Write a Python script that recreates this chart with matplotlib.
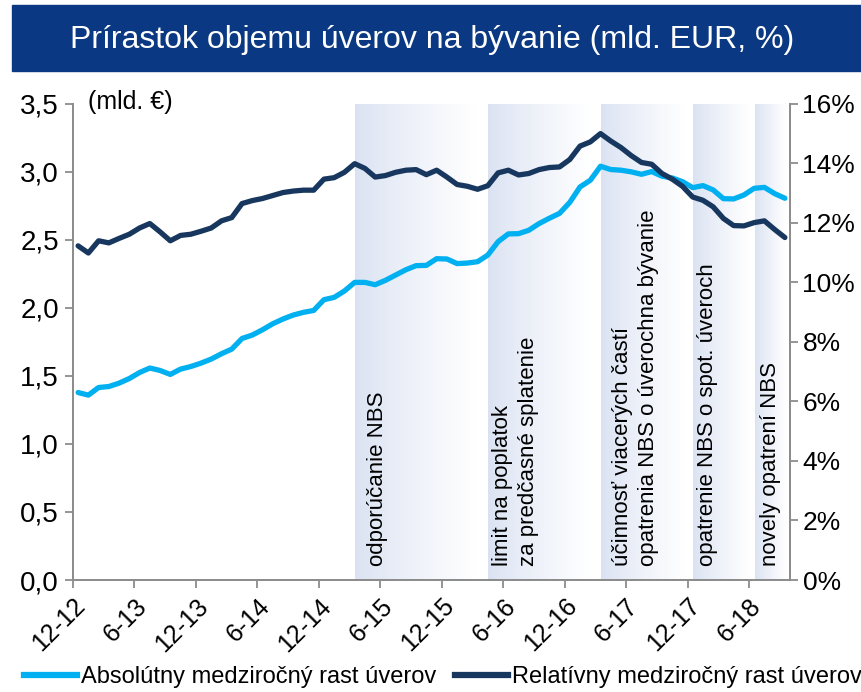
"""
Prirastok objemu uverov na byvanie - recreated chart
"""

import numpy as np
import matplotlib
matplotlib.use('Agg')
import matplotlib.pyplot as plt
from matplotlib.patches import Rectangle
from matplotlib.lines import Line2D
from matplotlib.colors import to_rgb

COLORS = {
    'light': '#00B0F0',
    'dark': '#17375E',
    'band': '#0A3882',
    'shade': '#DAE2F2',
    'axis': '#8C8C8C',
}

FONT = ['Liberation Sans', 'DejaVu Sans']

# --- data (monthly, 12-12 .. 9-18) ---
absolute_growth = [
    1.377, 1.358, 1.414, 1.421, 1.446, 1.480, 1.524, 1.557, 1.539, 1.510,
    1.549, 1.568, 1.593, 1.623, 1.662, 1.696, 1.774, 1.799, 1.838, 1.882,
    1.917, 1.946, 1.966, 1.980, 2.059, 2.076, 2.123, 2.186, 2.186, 2.169,
    2.201, 2.240, 2.279, 2.309, 2.311, 2.360, 2.358, 2.324, 2.328, 2.338,
    2.387, 2.485, 2.542, 2.544, 2.569, 2.618, 2.657, 2.693, 2.774, 2.887,
    2.936, 3.039, 3.015, 3.010, 2.998, 2.980, 3.000, 2.966, 2.953, 2.926,
    2.882, 2.897, 2.865, 2.801, 2.799, 2.828, 2.877, 2.884, 2.838, 2.804,
]
relative_growth = [
    11.22, 10.98, 11.39, 11.32, 11.47, 11.61, 11.82, 11.97, 11.69, 11.39,
    11.57, 11.61, 11.71, 11.82, 12.06, 12.17, 12.64, 12.74, 12.81, 12.91,
    13.01, 13.06, 13.09, 13.09, 13.46, 13.51, 13.69, 13.98, 13.82, 13.53,
    13.58, 13.69, 13.76, 13.78, 13.61, 13.76, 13.53, 13.28, 13.22, 13.12,
    13.24, 13.67, 13.76, 13.60, 13.65, 13.78, 13.85, 13.87, 14.12, 14.57,
    14.71, 14.99, 14.74, 14.52, 14.25, 14.02, 13.96, 13.65, 13.46, 13.22,
    12.86, 12.75, 12.53, 12.14, 11.90, 11.89, 12.00, 12.06, 11.77, 11.50,
]
tick_labels = ['12-12', '6-13', '12-13', '6-14', '12-14', '6-15',
               '12-15', '6-16', '12-16', '6-17', '12-17', '6-18']
left_ticks = [0.0, 0.5, 1.0, 1.5, 2.0, 2.5, 3.0, 3.5]
right_ticks = [0, 2, 4, 6, 8, 10, 12, 14, 16]

# shaded periods (start, end in months from 12-12) and their labels
periods = [(27.5, 40.5), (40.5, 51.5), (51.5, 60.5), (60.5, 66.6), (66.6, 70.0)]
period_labels = [
    'odporúčanie NBS',
    'limit na poplatok\nza predčasné splatenie',
    'účinnosť viacerých častí\nopatrenia NBS o úverochna bývanie',
    'opatrenie NBS o spot. úveroch',
    'novely opatrení NBS',
]
label_x = [29.7, 43.2, 54.9, 61.9, 68.1]


def shade_period(ax, x0, x1):
    """Horizontal gradient from light blue to white"""
    c0 = np.array(to_rgb(COLORS['shade']))
    t = np.linspace(0, 1, 256)
    w = np.clip(t / 0.9, 0, 1) ** 0.85
    rgb = c0[None, :] * (1 - w[:, None]) + np.ones(3)[None, :] * w[:, None]
    img = rgb[None, :, :]
    ax.imshow(img, extent=[x0, x1, 0, 3.5], aspect='auto',
              interpolation='bilinear', zorder=0)


fig = plt.figure(figsize=(8.61, 6.92), dpi=100)

# title band
fig.patches.append(Rectangle((12 / 861, 1 - 71 / 692), 1 - 12 / 861, 66 / 692,
                             transform=fig.transFigure, color=COLORS['band'],
                             zorder=0))
fig.text(432 / 861, 1 - 40 / 692, 'Prírastok objemu úverov na bývanie (mld. EUR, %)',
         ha='center', va='center', color='white', fontsize=23, family=FONT)

ax = fig.add_axes([73 / 861, 112 / 692, 717 / 861, 476.5 / 692])
ax2 = ax.twinx()

x = np.arange(len(absolute_growth)) + 0.5

for (x0, x1), lab, lx in zip(periods, period_labels, label_x):
    shade_period(ax, x0, x1)
    ax.text(lx, 0.1, lab, rotation=90, ha='center', va='bottom',
            multialignment='left', fontsize=16, family=FONT,
            color='black', linespacing=1.3, zorder=3)

ax.plot(x, absolute_growth, color=COLORS['light'], lw=3.8,
        solid_joinstyle='round', solid_capstyle='round', zorder=4)
ax2.plot(x, relative_growth, color=COLORS['dark'], lw=3.8,
         solid_joinstyle='round', solid_capstyle='round', zorder=4)

ax.set_xlim(0, 70)
ax.set_ylim(0, 3.5)
ax2.set_ylim(0, 16)

ax.set_xticks(np.arange(0, 67, 6))
ax.set_xticklabels(tick_labels, rotation=45, ha='right', va='top',
                   rotation_mode='anchor', fontsize=18, family=FONT)
ax.set_yticks(left_ticks)
ax.set_yticklabels([f'{v:.1f}'.replace('.', ',') for v in left_ticks],
                   fontsize=20, family=FONT)
ax2.set_yticks(right_ticks)
ax2.set_yticklabels([f'{v}%' for v in right_ticks], fontsize=19, family=FONT)

for a in (ax, ax2):
    a.spines['top'].set_visible(False)
    for s in ('left', 'right', 'bottom'):
        a.spines[s].set_color(COLORS['axis'])
        a.spines[s].set_linewidth(1.3)
    a.tick_params(colors=COLORS['axis'], labelcolor='black', length=6,
                  width=1.3, direction='out')
ax.tick_params(axis='x', pad=4)
ax.tick_params(axis='y', pad=4)
ax2.tick_params(axis='y', pad=3)
ax.set_facecolor('none')

fig.text(88 / 861, 1 - 102 / 692, '(mld. €)', ha='left', va='center',
         fontsize=18, family=FONT)

# legend
handles = [Line2D([], [], color=COLORS['light'], lw=4.5),
           Line2D([], [], color=COLORS['dark'], lw=4.5)]
fig.legend(handles, ['Absolútny medziročný rast úverov',
                     'Relatívny medziročný rast úverov'],
           loc='center', bbox_to_anchor=(443 / 861, 1 - 677 / 692), ncol=2,
           frameon=False, handlelength=2.25, handletextpad=0.15,
           columnspacing=0.8, borderaxespad=0, borderpad=0,
           prop={'family': FONT, 'size': 17})

fig.savefig('out.png', dpi=100)
